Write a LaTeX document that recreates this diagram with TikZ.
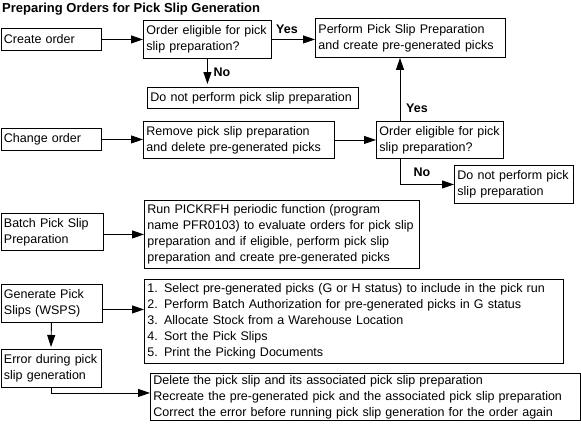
\documentclass[tikz,border=0pt]{standalone}
\usepackage{fontspec}
\setmainfont{Liberation Sans}
\usepackage{tikz}
\usetikzlibrary{arrows.meta}

\begin{document}
\begin{tikzpicture}[x=1pt, y=-1pt,
    box/.style={draw, line width=0.9pt, anchor=north west, align=left,
        inner xsep=3pt, inner ysep=1pt, font=\fontsize{12.5}{16}\selectfont},
    arr/.style={line width=0.9pt, -{Triangle[length=12pt, width=8pt]}},
    lbl/.style={font=\fontsize{12.5}{15}\selectfont\bfseries, inner sep=0pt}]
    \useasboundingbox (0,0) rectangle (581,426);

    \node[anchor=west, inner sep=0pt, font=\fontsize{13}{15}\selectfont\bfseries] (title) at (2,9) {Preparing Orders for Pick Slip Generation};

    % first row
    \node[box, text width=94pt, minimum height=22pt] (create) at (0.5,28) {Create order};
    \node[box, text width=122pt, minimum height=38pt] (elig1) at (143,20) {Order eligible for pick\\slip preparation?};
    \node[box, text width=184pt, minimum height=39pt] (perform) at (315,18) {Perform Pick Slip Preparation\\and create pre-generated picks};
    \node[box, text width=205pt, minimum height=21pt] (noprep1) at (147,87) {Do not perform pick slip preparation};

    % change order
    \node[box, text width=94pt, minimum height=22pt] (change) at (0.5,128) {Change order};
    \node[box, text width=185pt, minimum height=37pt] (remove) at (143,121) {Remove pick slip preparation\\and delete pre-generated picks};
    \node[box, text width=121pt, minimum height=37pt] (elig2) at (376,121) {Order eligible for pick\\slip preparation?};
    \node[box, text width=113pt, minimum height=38pt] (noprep2) at (454,165) {Do not perform pick\\slip preparation};

    % batch
    \node[box, text width=96pt, minimum height=37pt] (batch) at (0.5,213) {Batch Pick Slip\\Preparation};
    \node[box, text width=269pt, minimum height=68pt] (pickrfh) at (144,200) {Run PICKRFH periodic function (program\\name PFR0103) to evaluate orders for pick slip\\preparation and if eligible, perform pick slip\\preparation and create pre-generated picks};

    % generation
    \node[box, text width=95pt, minimum height=38pt] (generate) at (0.5,284) {Generate Pick\\Slips (WSPS)};
    \node[box, text width=413pt, minimum height=84pt] (steps) at (144,279) {1. Select pre-generated picks (G or H status) to include in the pick run\\2. Perform Batch Authorization for pre-generated picks in G status\\3. Allocate Stock from a Warehouse Location\\4. Sort the Pick Slips\\5. Print the Picking Documents};
    \node[box, text width=94pt, minimum height=38pt] (error) at (0.5,349) {Error during pick\\slip generation};
    \node[box, text width=424pt, minimum height=47pt] (recover) at (150,373) {Delete the pick slip and its associated pick slip preparation\\Recreate the pre-generated pick and the associated pick slip preparation\\Correct the error before running pick slip generation for the order again};

    % labels
    \node[lbl] (yes1) at (287,29) {Yes};
    \node[lbl] (no1) at (222,72) {No};
    \node[lbl] (yes2) at (417,108) {Yes};
    \node[lbl] (no2) at (422,172) {No};

    % connectors
    \draw[arr] (create.east) -- (elig1.west);
    \draw[arr] (elig1.east) -- (elig1.east -| perform.west);
    \draw[arr, shorten >=3pt] (elig1.south) -- (elig1.south |- noprep1.north);
    \draw[arr] (change.east) -- (change.east -| remove.west);
    \draw[arr] (remove.east) -- (remove.east -| elig2.west);
    \draw[arr] ([xshift=24pt]elig2.north west) -- ([xshift=24pt]elig2.north west |- perform.south);
    \draw[arr] ([xshift=24pt]elig2.south west) |- (noprep2.west);
    \draw[arr] (batch.east |- pickrfh.west) -- (pickrfh.west);
    \draw[arr] ([yshift=-6pt]generate.east) -- ([yshift=-6pt]generate.east -| steps.west);
    \draw[arr, shorten >=2pt] (generate.south) -- (error.north);
    \draw[arr] (error.south) |- ([yshift=4pt]recover.west);
\end{tikzpicture}
\end{document}
